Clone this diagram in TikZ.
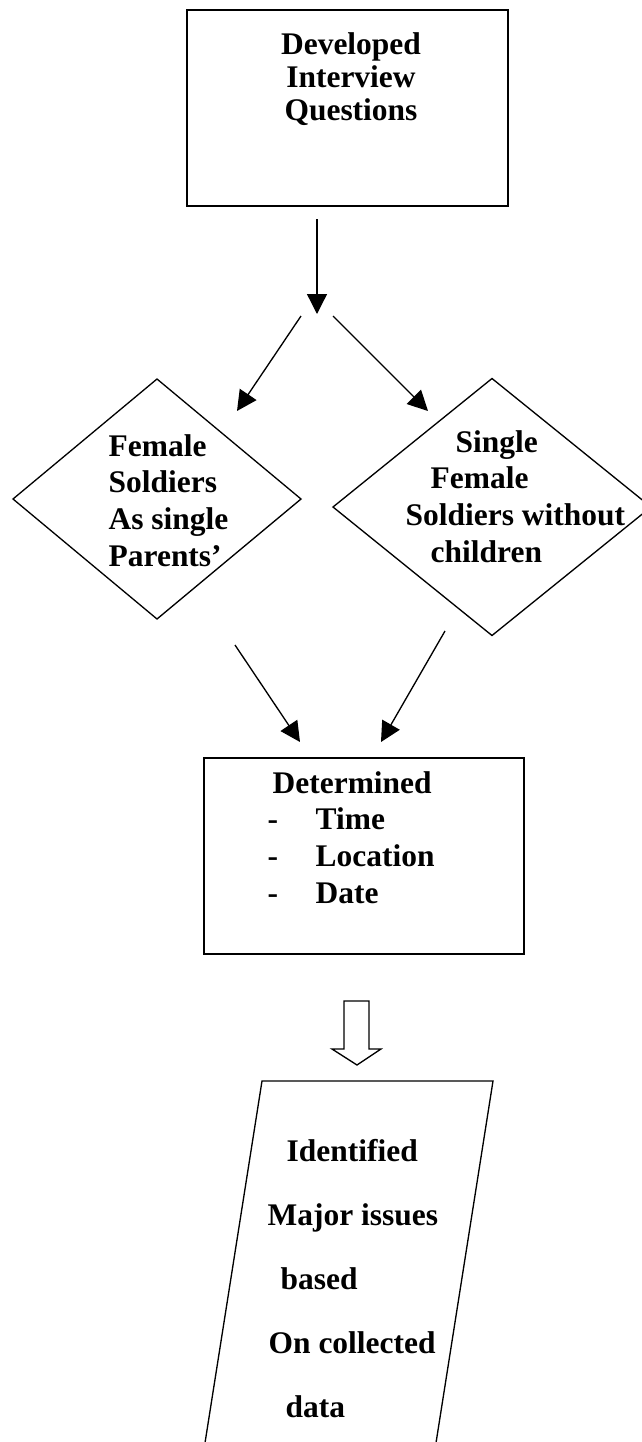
\documentclass[tikz,border=0pt]{standalone}
\usepackage{fontspec}
\setmainfont{Liberation Serif}
\usetikzlibrary{shapes.geometric,arrows.meta}

\tikzset{every picture/.style={line width=1pt}}
\tikzset{
  boxnode/.style={draw, rectangle, line width=1.2pt, inner sep=0pt, outer sep=0pt},
  decnode/.style={draw, diamond, inner sep=0pt, outer sep=0pt},
  txt/.style={anchor=base west, align=left, inner sep=0pt, font=\bfseries\fontsize{23.6}{27.5}\selectfont},
  arr/.style={-{Triangle[length=15pt,width=15pt]}},
}

\begin{document}
\begin{tikzpicture}[x=0.75pt,y=0.75pt,yscale=-1,xscale=1]
	\useasboundingbox (0,0) rectangle (642,1442);

	% Boxes and decisions
	\node[boxnode, minimum width=240.75pt, minimum height=147pt] (devq) at (347.5,108) {};
	\node[decnode, minimum width=216pt, minimum height=180pt] (parents) at (157,499) {};
	\node[decnode, minimum width=238.5pt, minimum height=192.75pt] (nokids) at (492,507) {};
	\node[boxnode, minimum width=240pt, minimum height=147pt] (determ) at (364,856) {};
	%Data shape (runs off the page)
	\draw (196,1500) -- (262,1081) -- (493,1081) -- (427,1500) ;
	%Block arrow
	\draw (344,1001) -- (369,1001) -- (369,1049) -- (381,1049) -- (357,1065) -- (332,1049) -- (344,1049) -- cycle ;

	% Arrow ends
	\coordinate (q0) at (317,219);
	\coordinate (q1) at (317,314);
	\coordinate (l0) at (301,316);
	\coordinate (l1) at (237,411);
	\coordinate (r0) at (333,316);
	\coordinate (r1) at (428,411);
	\coordinate (pl0) at (235,645);
	\coordinate (pl1) at (300,742);
	\coordinate (pr0) at (445,631);
	\coordinate (pr1) at (381,742);

	%Straight Lines
	\draw[arr] (q0) -- (q1) ;
	\draw[arr] (l0) -- (l1) ;
	\draw[arr] (r0) -- (r1) ;
	\draw[arr] (pl0) -- (pl1) ;
	\draw[arr] (pr0) -- (pr1) ;

	% Text Node (anchored at the last line)
	\node[txt, anchor=base, align=center, font=\bfseries\fontsize{23.6}{25}\selectfont] (devqtxt) at (351,120.7) {Developed\\Interview\\Questions};
	% Text Node
	\node[txt] (parentstxt) at (108,566) {Female\\Soldiers\\As single\\Parents’};
	% Text Node
	\node[txt] (nokidstxt) at (405,562) {\hspace{37.5pt}Single\\\hspace{18.75pt}Female\\Soldiers without\\\hspace{18.75pt}children};
	% Text Node
	\node[txt] (determtxt) at (267,903) {\hspace{3.75pt}Determined\\\makebox[36pt][l]{-}Time\\\makebox[36pt][l]{-}Location\\\makebox[36pt][l]{-}Date};
	% Text Node
	\node[txt, font=\bfseries\fontsize{23.6}{48}\selectfont] (datatxt) at (267,1417) {\hspace{14.25pt}Identified\\Major issues\\\hspace{9.75pt}based\\\hspace{0.75pt}On collected\\\hspace{13.5pt}data};

\end{tikzpicture}
\end{document}
